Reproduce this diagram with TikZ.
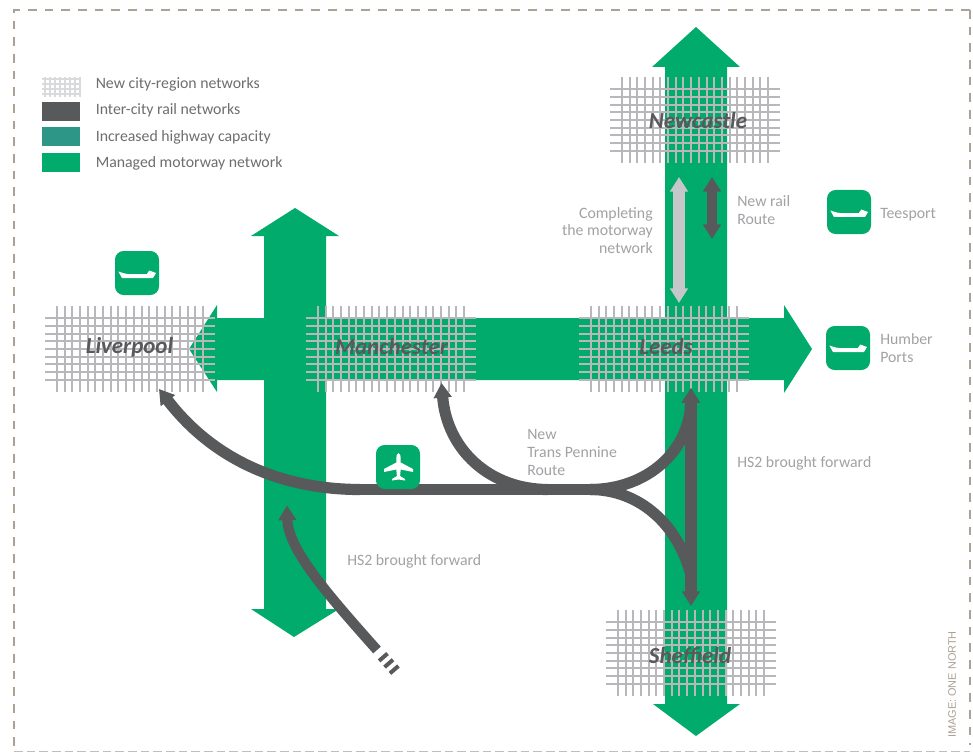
\documentclass[tikz,border=0pt]{standalone}
\usepackage{fontspec}
\setmainfont{Carlito}
\newfontfamily\creditfont{Liberation Sans}
\usetikzlibrary{arrows.meta}
\definecolor{mway}{HTML}{00AB6B}
\definecolor{rail}{HTML}{58595B}
\definecolor{teal}{HTML}{2E9686}
\definecolor{gridc}{HTML}{B8B8BC}
\definecolor{gridl}{HTML}{D8DADC}
\definecolor{lab}{HTML}{A0A2A5}
\definecolor{legt}{HTML}{6D6E71}
\definecolor{bord}{HTML}{ACA196}
\definecolor{comp}{HTML}{C6C7C8}
\tikzset{
  x=0.75pt,y=-0.75pt,
  mwayfill/.style={fill=mway,draw=none},
  gridline/.style={draw=gridc,line width=1.5pt},
  citylabel/.style={font=\fontsize{17.2}{18}\selectfont\bfseries\itshape,text=rail,inner sep=0pt},
  greylabel/.style={font=\fontsize{11.85}{13.2}\selectfont,text=lab,inner sep=0pt,align=left,anchor=west},
  legendlabel/.style={font=\fontsize{11.85}{13}\selectfont,text=legt,inner sep=0pt,anchor=west},
  legendbox/.style={minimum width=28.5pt,minimum height=14.25pt,inner sep=0pt,draw=none},
  icon/.style={fill=mway,draw=none,rounded corners=6.5pt,minimum size=33pt,inner sep=0pt},
  railline/.style={draw=rail,line width=8.4pt},
  railhead/.style={-{Triangle[width=13pt,length=11pt]}},
  railheadboth/.style={{Triangle[width=13pt,length=11pt]}-{Triangle[width=13pt,length=11pt]}},
}
\newcommand{\citygrid}[2]{%
  \begin{scope}[shift={(#1,#2)}]
    \foreach \k in {0,...,8} \draw[gridline] (-85,{round(-30.7+\k*7.675)}) -- (85,{round(-30.7+\k*7.675)});
    \foreach \k in {0,...,19} \draw[gridline] ({round(-73.2+\k*7.705)},-43) -- ({round(-73.2+\k*7.705)},43);
  \end{scope}}
\newcommand{\shipglyph}[2]{%
  \fill[white,shift={(#1,#2)}] (-18.7,-1.5) .. controls (-13,0.5) and (-10,1.2) .. (-7,1.2) -- (9.7,1.2) -- (12.3,-2.5) -- (19,0) -- (16,5) -- (-15,5) -- cycle;}
\begin{document}
\begin{tikzpicture}
\useasboundingbox (0,0) rectangle (973,752);
\fill[white] (0,0) rectangle (973,752);
% border
\draw[draw=bord,line width=2pt,dash pattern=on 6.5pt off 6pt] (970,10) -- (14,10) -- (14,752);
\draw[draw=bord,line width=2pt,dash pattern=on 6.5pt off 6pt] (970,10) -- (970,745);
\draw[draw=bord!70,line width=1pt,dash pattern=on 6.5pt off 3pt] (14,751.5) -- (970,751.5);
% motorways
\fill[mwayfill] (665,67) -- (652,67) -- (696,27) -- (740,67) -- (727,67) -- (727,704) -- (740,704) -- (696,736) -- (653,704) -- (665,704) -- cycle;
\fill[mwayfill] (264,236) -- (251,236) -- (295,208) -- (339,236) -- (326,236) -- (326,609) -- (339,609) -- (294,637) -- (251,609) -- (264,609) -- cycle;
\fill[mwayfill] (217,318) -- (784,318) -- (784,305) -- (812,349) -- (784,393) -- (784,380) -- (217,380) -- (217,392) -- (189,349) -- (217,305) -- cycle;
% grids
\citygrid{130}{349}
\citygrid{391}{349}
\citygrid{664}{349}
\citygrid{695}{120}
\citygrid{691}{653}
% city names
\node[citylabel] (liverpool) at (129.5,347) {Liverpool};
\node[citylabel] (manchester) at (391.5,347) {Manchester};
\node[citylabel] (leeds) at (666,347) {Leeds};
\node[citylabel] (newcastle) at (698,121) {Newcastle};
\node[citylabel] (sheffield) at (690,656) {Sheffield};
% rail
\coordinate (liverpoolend) at (159,389);
\coordinate (manchesterend) at (441.5,383);
\coordinate (leedsend) at (691,388);
\coordinate (sheffieldend) at (691,606);
\coordinate (hubwest) at (360,489.5);
\coordinate (hubeast) at (590,489.5);
\coordinate (hsstart) at (377,650);
\coordinate (hsend) at (287,505.5);
\coordinate (hsdash) at (398,674);
\draw[railline,railhead] (hubwest) .. controls (285,489.5) and (215,462) .. (liverpoolend);
\draw[railline] (hubwest) -- (hubeast);
\draw[railline,railhead] (548,489.5) .. controls (490,489.5) and (447,450) .. (manchesterend);
\draw[railline,railhead] (hubeast) .. controls (648,489.5) and (690,450) .. (leedsend);
\draw[railline] (hubeast) .. controls (640,489.5) and (678,525) .. (691,575);
\draw[draw=rail,line width=9pt,railheadboth] (leedsend) -- (sheffieldend);
\draw[draw=rail,line width=7.6pt,railhead] (hsstart) .. controls (330,597) and (288,550) .. (hsend);
\draw[draw=rail,line width=8.4pt,dash pattern=on 3pt off 3.2pt] (hsstart) ++(5,5.7) -- (hsdash);
% new rail / motorway arrows
\coordinate (compn) at (679,177);
\coordinate (comps) at (679,303);
\coordinate (newn) at (712,177);
\coordinate (news) at (712,239);
\draw[draw=comp,line width=9pt,railheadboth] (compn) -- (comps);
\draw[draw=rail,line width=8pt,railheadboth] (newn) -- (news);
% icons
\node[icon] (shipliverpool) at (137,273) {};
\shipglyph{137}{273}
\node[icon] (shiptees) at (849,212) {};
\shipglyph{849}{212}
\node[icon] (shiphumber) at (848,348) {};
\shipglyph{848}{347}
\node[icon] (airport) at (398,467) {};
\fill[white,shift={(398.5,467)}] (0,-14) .. controls (1.6,-14) and (2.2,-11) .. (2.2,-9) -- (2.2,-4.5) -- (14.5,2) -- (14.5,5) -- (2.2,2.5) -- (1.6,9) -- (6.5,12) -- (6.5,13.5) -- (0,12.5) -- (-6.5,13.5) -- (-6.5,12) -- (-1.6,9) -- (-2.2,2.5) -- (-14.5,5) -- (-14.5,2) -- (-2.2,-4.5) -- (-2.2,-9) .. controls (-2.2,-11) and (-1.6,-14) .. (0,-14) -- cycle;
% legend
\begin{scope}[shift={(42,77)}]
  \foreach \k in {0,...,3} \draw[draw=gridl,line width=1.3pt] (0,{2+\k*5}) -- (38,{2+\k*5});
  \foreach \k in {0,...,7} \draw[draw=gridl,line width=1.3pt] ({3+\k*5},0) -- ({3+\k*5},20);
\end{scope}
\node[legendbox,fill=rail,anchor=north west] (keyrail) at (42,102) {};
\node[legendbox,fill=teal,anchor=north west] (keyteal) at (42,127) {};
\node[legendbox,fill=mway,anchor=north west] (keymway) at (42,153) {};
\node[legendlabel] (legcity) at (95.5,84.5) {New city-region networks};
\node[legendlabel] (legrail) at (95.5,110) {Inter-city rail networks};
\node[legendlabel] (leghigh) at (95.5,137.5) {Increased highway capacity};
\node[legendlabel] (legmway) at (95.5,163.5) {Managed motorway network};
% labels
\node[greylabel,align=right,anchor=east] (complabel) at (653,230.5) {Completing\\the motorway\\network};
\node[greylabel] (newrail) at (737,210) {New rail\\Route};
\node[greylabel] (tees) at (880,214.5) {Teesport};
\node[greylabel] (humber) at (880,348) {Humber\\Ports};
\node[greylabel] (hsa) at (737,463.5) {HS2 brought forward};
\node[greylabel] (hsb) at (347,561.5) {HS2 brought forward};
\node[greylabel] (tp) at (527,452.5) {New\\Trans Pennine\\Route};
\node[font=\creditfont\fontsize{8.2}{9}\selectfont,text=bord,rotate=90,inner sep=0pt] (credit) at (952,684.5) {IMAGE: ONE NORTH};
\end{tikzpicture}
\end{document}
